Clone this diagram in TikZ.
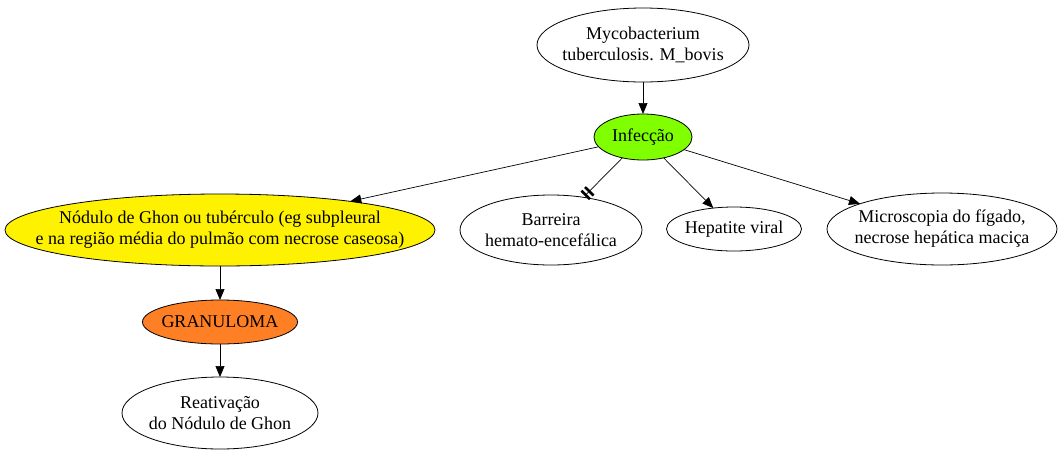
\documentclass[tikz,border=0pt]{standalone}
\usepackage{fontspec}
\setmainfont{Liberation Serif}
\usetikzlibrary{shapes.geometric,arrows.meta}
\definecolor{infgreen}{HTML}{7FFF00}
\definecolor{granorange}{HTML}{FF7F24}
\begin{document}
\begin{tikzpicture}[x=1pt,y=-1pt,
  ell/.style={ellipse,draw=black,line width=0.8pt,inner sep=0pt,outer sep=0pt},
  lbl/.style={align=center,font=\fontsize{18}{21}\selectfont,inner sep=0pt},
  arr/.style={line width=0.7pt,-{Triangle[length=11pt,width=9pt]}},
  teearr/.style={line width=0.7pt,-{Bar[width=12pt,line width=2.6pt,sep=2.5pt]Bar[width=12pt,line width=2.6pt,sep=2pt]}}
]
\useasboundingbox (0,0) rectangle (1061,456);
\node[ell,minimum width=212,minimum height=74,
  label={[lbl]center:Mycobacterium\\tuberculosis. M\_bovis}] (myc) at (643,45) {};
\node[ell,fill=infgreen,minimum width=98,minimum height=46,
  label={[lbl]center:Infecção}] (inf) at (643,137) {};
\node[ell,fill=yellow,minimum width=430,minimum height=72,
  label={[lbl]center:Nódulo de Ghon ou tubérculo (eg subpleural\\e na região média do pulmão com necrose caseosa)}] (gho) at (220,230) {};
\node[ell,minimum width=182,minimum height=70,
  label={[lbl]center:Barreira\\hemato-encefálica}] (bar) at (551,230) {};
\node[ell,minimum width=135,minimum height=44,
  label={[lbl]center:Hepatite viral}] (hep) at (734,229) {};
\node[ell,minimum width=230,minimum height=72,
  label={[lbl]center:Microscopia do fígado,\\necrose hepática maciça}] (mic) at (942,229) {};
\node[ell,fill=granorange,minimum width=155,minimum height=44,
  label={[lbl]center:GRANULOMA}] (gra) at (220,322) {};
\node[ell,minimum width=196,minimum height=72,
  label={[lbl]center:Reativação\\do Nódulo de Ghon}] (rea) at (220,413) {};
\draw[arr] (myc) -- (inf);
\draw[arr] (inf) -- (gho);
\draw[teearr] (inf) -- (bar);
\draw[arr] (inf) -- (hep);
\draw[arr] (inf) -- (mic);
\draw[arr] (gho) -- (gra);
\draw[arr] (gra) -- (rea);
\end{tikzpicture}
\end{document}
